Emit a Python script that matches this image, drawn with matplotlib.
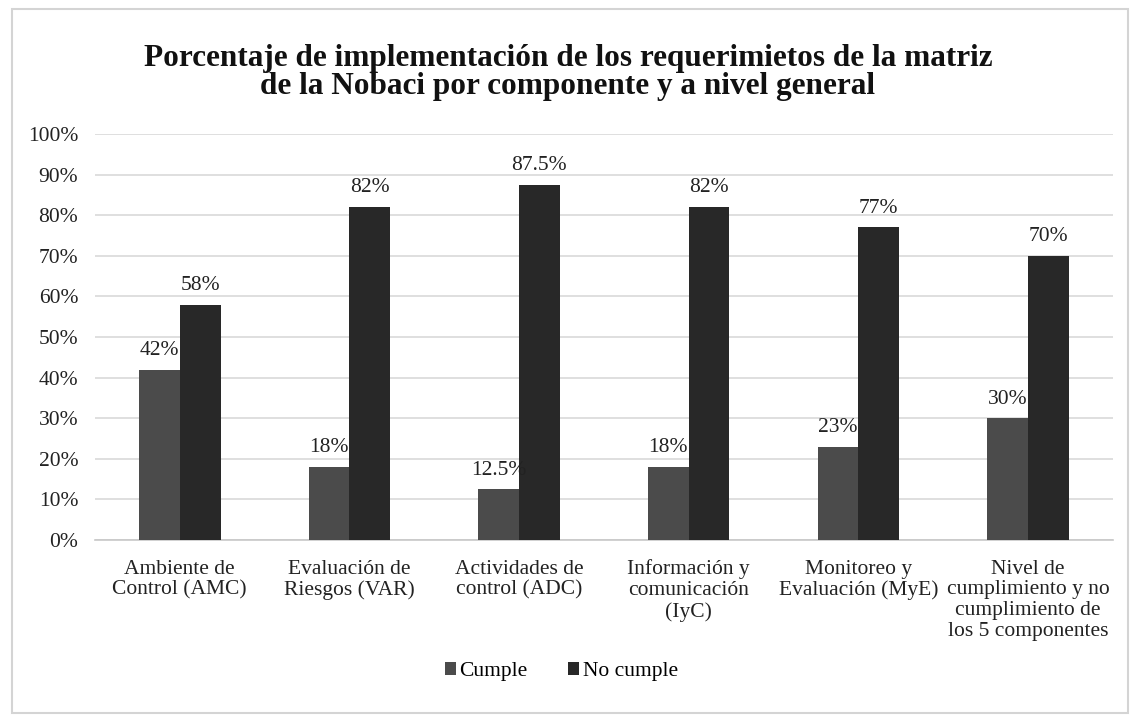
import matplotlib.pyplot as plt
import matplotlib.patches as mpatches
import numpy as np

plt.rcParams['font.family'] = ['Liberation Serif', 'DejaVu Serif']

# Datos
componentes = ['Ambiente de\nControl (AMC)', 'Evaluación de\nRiesgos (VAR)',
               'Actividades de\ncontrol (ADC)', 'Información y\ncomunicación\n(IyC)',
               'Monitoreo y\nEvaluación (MyE)',
               'Nivel de\ncumplimiento y no\ncumplimiento de\nlos 5 componentes']
cumple = [42, 18, 12.5, 18, 23, 30]
no_cumple = [58, 82, 87.5, 82, 77, 70]
etiquetas_cumple = ['42%', '18%', '12.5%', '18%', '23%', '30%']
etiquetas_no_cumple = ['58%', '82%', '87.5%', '82%', '77%', '70%']

fig = plt.figure(figsize=(11.36, 7.24), dpi=100)
ax = fig.add_axes([0.0836, 0.254, 0.896, 0.561])

x = np.arange(len(componentes))
w = 0.24
b1 = ax.bar(x - w / 2, cumple, w, color='#4b4b4b', label='Cumple', zorder=3)
b2 = ax.bar(x + w / 2, no_cumple, w, color='#282828', label='No cumple', zorder=3)

ax.bar_label(b1, labels=etiquetas_cumple, padding=7, fontsize=15.5, color='#222222')
ax.bar_label(b2, labels=etiquetas_no_cumple, padding=7, fontsize=15.5, color='#222222')

ax.set_ylim(0, 100)
ax.set_xlim(-0.5, len(componentes) - 0.5)
ax.set_yticks(np.arange(0, 101, 10))
ax.set_yticklabels([f'{v}%' for v in range(0, 101, 10)], fontsize=15.5, color='#222222')
ax.set_xticks(x)
ax.set_xticklabels(componentes, fontsize=15.5, color='#222222', linespacing=1.12)
ax.tick_params(axis='both', length=0)
ax.tick_params(axis='y', pad=12)
ax.tick_params(axis='x', pad=14)
ax.grid(axis='y', color='#d9d9d9', linewidth=1.2, zorder=0)
for s in ['top', 'right', 'left']:
    ax.spines[s].set_visible(False)
ax.spines['bottom'].set_color('#c8c8c8')
ax.spines['bottom'].set_linewidth(1.2)

fig.suptitle('Porcentaje de implementación de los requerimietos de la matriz\n'
             'de la Nobaci por componente y a nivel general',
             fontsize=22.5, fontweight='bold', y=0.900, va='center',
             linespacing=0.97, color='#111111')

fig.legend(handles=[b1, b2], loc='center', bbox_to_anchor=(0.494, 0.072), ncol=2,
           frameon=False, fontsize=15.5, handlelength=0.55, handleheight=0.55,
           handletextpad=0.15, columnspacing=1.85)

# borde del gráfico
fig.patches.append(mpatches.Rectangle((0.011, 0.015), 0.982, 0.972, transform=fig.transFigure,
                                      fill=False, edgecolor='#d4d4d4', linewidth=1.5))

fig.savefig('out.png', dpi=100)
